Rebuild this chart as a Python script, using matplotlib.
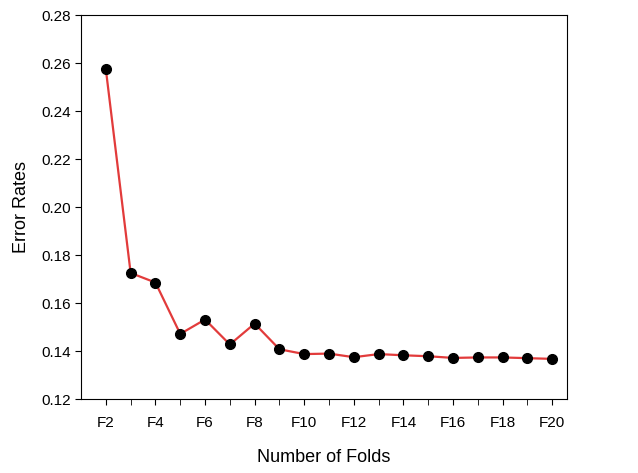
import numpy as np
import matplotlib
matplotlib.use('Agg')
import matplotlib.pyplot as plt
from matplotlib.ticker import MultipleLocator, FixedLocator

plt.rcParams['font.family'] = ['Liberation Sans', 'DejaVu Sans']

# folds F2..F20 and error rates
folds = np.arange(2, 21)
error_rates = [0.2575, 0.1726, 0.1686, 0.1472, 0.1532, 0.1428, 0.1515, 0.1408,
               0.1388, 0.1390, 0.1375, 0.1388, 0.1383, 0.1379, 0.1372, 0.1374,
               0.1374, 0.1371, 0.1368]
tick_labels = [f'F{k}' for k in range(2, 21, 2)]

fig = plt.figure(figsize=(6.38, 4.73), dpi=100)
ax = fig.add_axes([0.127, 0.156, 0.762, 0.812])

ax.plot(folds, error_rates, color='#e23b3b', lw=1.6, marker='o',
        markersize=7, markerfacecolor='black', markeredgecolor='black')

ax.set_xlim(1, 20.6)
ax.set_ylim(0.12, 0.28)
ax.xaxis.set_major_locator(FixedLocator(range(2, 21, 2)))
ax.set_xticklabels(tick_labels)
ax.xaxis.set_minor_locator(FixedLocator(range(3, 21, 2)))
ax.yaxis.set_major_locator(MultipleLocator(0.02))
ax.yaxis.set_major_formatter(plt.FormatStrFormatter('%.2f'))

ax.tick_params(axis='both', which='both', direction='out', top=False, right=False,
               labelsize=11)
ax.tick_params(which='major', length=4)
ax.tick_params(axis='x', which='minor', length=4)
ax.tick_params(axis='x', pad=8)

ax.set_xlabel('Number of Folds', fontsize=13, labelpad=14)
ax.set_ylabel('Error Rates', fontsize=13, labelpad=8)

fig.savefig('out.png', dpi=100)
